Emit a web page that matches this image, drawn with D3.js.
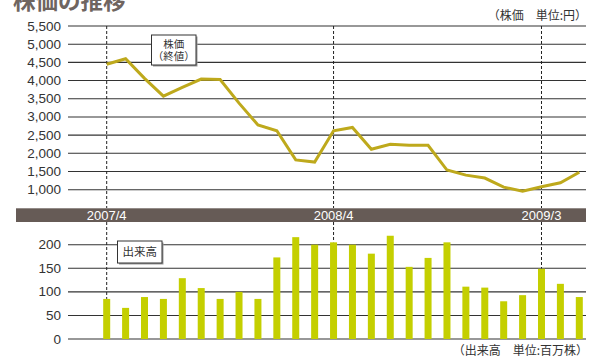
<!DOCTYPE html>
<meta charset="utf-8"/>
<style>
  body { margin: 0; background: #fff; }
  svg text { font-family: "Liberation Sans", Arial, sans-serif; }
  .jp { font-family: "Noto Sans CJK JP", sans-serif; }
</style>
<svg width="592" height="358"></svg>
<script src="https://d3js.org/d3.v7.min.js"></script>
<script>

  // months 2007/4 .. 2009/5
  var months = ["2007/4","2007/5","2007/6","2007/7","2007/8","2007/9","2007/10","2007/11","2007/12",
    "2008/1","2008/2","2008/3","2008/4","2008/5","2008/6","2008/7","2008/8","2008/9","2008/10",
    "2008/11","2008/12","2009/1","2009/2","2009/3","2009/4","2009/5"];

  // closing price (yen)
  var price = [4450, 4600, 4060, 3570, 3810, 4040, 4030, 3380, 2780, 2620, 1820, 1760,
    2620, 2710, 2110, 2250, 2220, 2220, 1540, 1400, 1320, 1070, 960, 1080, 1190, 1480];

  // volume (million shares)
  var volume = [85, 66, 89, 85, 129, 108, 85, 100, 85, 173, 216, 200,
    205, 200, 181, 219, 153, 172, 205, 111, 109, 80, 93, 149, 117, 89];

  var priceTicks = [1000, 1500, 2000, 2500, 3000, 3500, 4000, 4500, 5000, 5500];
  var volumeTicks = [0, 50, 100, 150, 200];
  var markMonths = ["2007/4", "2008/4", "2009/3"];

  var svg = d3.select("svg");
  var left = 68, right = 586;

  var x = d3.scalePoint().domain(months).range([106.7, 579.3]);
  var yP = d3.scaleLinear().domain([1000, 5500]).range([189.7, 26]);
  var yV = d3.scaleLinear().domain([0, 200]).range([339, 244.7]);

  // title (cut off at top)
  svg.append("text").attr("class", "jp")
    .attr("x", 13).attr("y", 8.5)
    .attr("font-size", 22.5).attr("font-weight", "bold")
    .attr("fill", "#6f6560")
    .text("株価の推移");

  svg.append("text").attr("class", "jp")
    .attr("x", 587).attr("y", 19.5)
    .attr("text-anchor", "end").attr("font-size", 12).attr("fill", "#333")
    .text("（株価　単位:円）");

  svg.append("text").attr("class", "jp")
    .attr("x", 588).attr("y", 354.5)
    .attr("text-anchor", "end").attr("font-size", 12).attr("fill", "#333")
    .text("（出来高　単位:百万株）");

  // price grid + ticks
  var gP = svg.append("g");
  gP.selectAll("line").data(priceTicks).enter().append("line")
    .attr("x1", left).attr("x2", right)
    .attr("y1", function (d) { return yP(d); })
    .attr("y2", function (d) { return yP(d); })
    .attr("stroke", "#333").attr("stroke-width", 1.1);
  gP.selectAll("text").data(priceTicks).enter().append("text")
    .attr("x", 61).attr("y", function (d) { return yP(d) + 4.5; })
    .attr("text-anchor", "end").attr("font-size", 13.5).attr("fill", "#333")
    .text(d3.format(","));

  // volume grid + ticks
  var gV = svg.append("g");
  gV.selectAll("line").data(volumeTicks).enter().append("line")
    .attr("x1", left).attr("x2", right)
    .attr("y1", function (d) { return yV(d); })
    .attr("y2", function (d) { return yV(d); })
    .attr("stroke", "#333").attr("stroke-width", 1.1);
  gV.selectAll("text").data(volumeTicks).enter().append("text")
    .attr("x", 61).attr("y", function (d) { return yV(d) + 4.5; })
    .attr("text-anchor", "end").attr("font-size", 13.5).attr("fill", "#333")
    .text(function (d) { return d; });

  // dashed month markers
  var markIdx = markMonths.map(function (m) { return months.indexOf(m); });
  svg.selectAll(".mk1").data(markMonths).enter().append("line")
    .attr("x1", function (d) { return x(d); }).attr("x2", function (d) { return x(d); })
    .attr("y1", 26).attr("y2", 208)
    .attr("stroke", "#222").attr("stroke-width", 1).attr("stroke-dasharray", "3,2");
  svg.selectAll(".mk2").data(markIdx).enter().append("line")
    .attr("x1", function (d) { return x(months[d]); }).attr("x2", function (d) { return x(months[d]); })
    .attr("y1", 222).attr("y2", function (d) { return yV(volume[d]); })
    .attr("stroke", "#222").attr("stroke-width", 1).attr("stroke-dasharray", "3,2");

  // band with month labels
  svg.append("rect").attr("x", 16).attr("y", 208.3).attr("width", 570).attr("height", 13.7)
    .attr("fill", "#665b56");
  svg.selectAll(".bl").data(markMonths).enter().append("text")
    .attr("x", function (d) { return x(d); }).attr("y", 219.6)
    .attr("text-anchor", "middle").attr("font-size", 13).attr("fill", "#fff")
    .text(function (d) { return d; });

  // volume bars
  svg.append("g").selectAll("rect").data(volume).enter().append("rect")
    .attr("x", function (d, i) { return x(months[i]) - 3.5; })
    .attr("width", 7)
    .attr("y", function (d) { return yV(d); })
    .attr("height", function (d) { return yV(0) - yV(d); })
    .attr("fill", "#c4cf00");

  // price line
  var line = d3.line()
    .x(function (d, i) { return x(months[i]); })
    .y(function (d) { return yP(d); });
  svg.append("path").datum(price)
    .attr("d", line)
    .attr("fill", "none").attr("stroke", "#bea91c").attr("stroke-width", 3)
    .attr("stroke-linejoin", "miter");

  // label boxes (multi-line text as one text element with tspans)
  function labelBox(x0, y0, w, h, lines, fs, lh) {
    svg.append("rect").attr("x", x0 + 1.5).attr("y", y0 + 1.5).attr("width", w).attr("height", h)
      .attr("fill", "#999");
    svg.append("rect").attr("x", x0).attr("y", y0).attr("width", w).attr("height", h)
      .attr("fill", "#fff").attr("stroke", "#333").attr("stroke-width", 1);
    var y1 = y0 + h / 2 - (lines.length - 1) * lh / 2 + fs * 0.37;
    var t = svg.append("text").attr("class", "jp")
      .attr("text-anchor", "middle").attr("font-size", fs).attr("fill", "#333");
    lines.forEach(function (s, i) {
      t.append("tspan").attr("x", x0 + w / 2).attr("y", y1 + i * lh).text(s);
    });
  }
  labelBox(151.5, 35, 44.5, 30, ["株価", "（終値）"], 10.5, 12);
  labelBox(117.5, 241, 44.5, 22, ["出来高"], 11.5, 12);

</script>
